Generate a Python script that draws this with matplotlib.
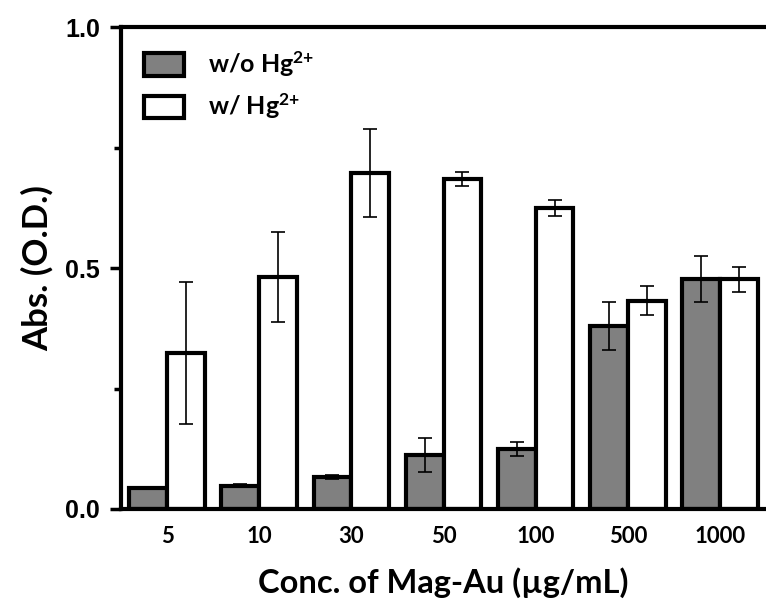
import numpy as np
import matplotlib
matplotlib.use('Agg')
import matplotlib.pyplot as plt

plt.rcParams['font.family'] = ['Lato', 'DejaVu Sans']
plt.rcParams['font.weight'] = 'bold'
plt.rcParams['mathtext.fontset'] = 'custom'
plt.rcParams['mathtext.rm'] = 'Lato:bold'
plt.rcParams['mathtext.it'] = 'Lato:bold'
plt.rcParams['mathtext.bf'] = 'Lato:bold'

concs = ['5', '10', '30', '50', '100', '500', '1000']
without_hg = [0.044, 0.048, 0.066, 0.112, 0.124, 0.380, 0.477]
without_err = [0.0, 0.003, 0.004, 0.035, 0.014, 0.050, 0.048]
with_hg = [0.324, 0.482, 0.697, 0.685, 0.624, 0.432, 0.477]
with_err = [0.147, 0.093, 0.092, 0.014, 0.017, 0.030, 0.026]

fig = plt.figure(figsize=(7.66, 6.10), dpi=100)
ax = fig.add_axes([121 / 766, 101 / 610, 645 / 766, 482 / 610])

x = np.arange(len(concs))
w = 0.41
err_kw = dict(elinewidth=1.2, capsize=5, capthick=1.2, ecolor='black')
ax.bar(x - w / 2, without_hg, w, yerr=without_err, color='#808080',
       edgecolor='black', linewidth=3, error_kw=err_kw, label='w/o Hg$^{2{+}}$')
ax.bar(x + w / 2, with_hg, w, yerr=with_err, color='white',
       edgecolor='black', linewidth=3, error_kw=err_kw, label='w/ Hg$^{2{+}}$')

ax.set_xlim(-0.5, 6.5)
ax.set_ylim(0, 1.0)
ax.set_xticks(x)
ax.set_xticklabels(concs)
ax.set_yticks([0, 0.5, 1.0])
ax.set_yticklabels(['0.0', '0.5', '1.0'], family='Liberation Sans', fontweight='bold')
ax.set_yticks([0.25, 0.75], minor=True)
ax.tick_params(axis='y', which='major', length=8, width=2.5, labelsize=18, pad=7)
ax.tick_params(axis='y', which='minor', length=5, width=2.5)
ax.tick_params(axis='x', length=0, labelsize=16, pad=12)
for s in ['left', 'bottom', 'top']:
    ax.spines[s].set_linewidth(3)
ax.spines['right'].set_visible(False)

ax.set_xlabel('Conc. of Mag-Au (\u00b5g/mL)', fontsize=23.5, fontweight='bold', labelpad=15)
ax.set_ylabel('Abs. (O.D.)', fontsize=25, fontweight='bold', labelpad=8)

ax.legend(loc='upper left', frameon=False, fontsize=18, handlelength=1.6,
          handleheight=1.0, handletextpad=1.0, borderaxespad=0.5, labelspacing=0.5)

fig.savefig('out.png', dpi=100)
